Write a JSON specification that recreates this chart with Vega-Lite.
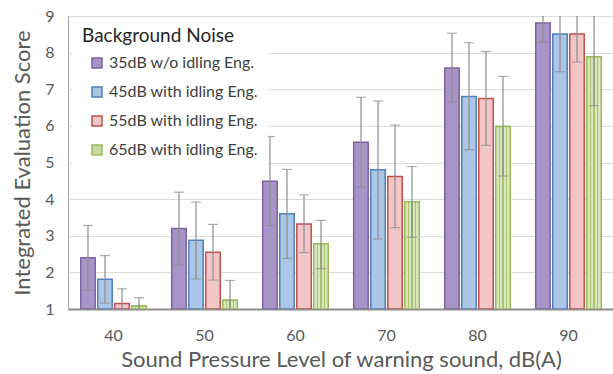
{
  "$schema": "https://vega.github.io/schema/vega-lite/v6.json",
  "width": 546,
  "height": 293,
  "autosize": {"type": "none"},
  "padding": {"left": 68, "top": 16, "right": 0, "bottom": 65},
  "background": "white",
  "config": {
    "font": "Lato",
    "view": {"stroke": "#a6a6a6", "strokeWidth": 1},
    "axisY": {
      "values": [1, 2, 3, 4, 5, 6, 7, 8, 9],
      "tickCount": 9,
      "labelOverlap": false,
      "labelFontSize": 16,
      "labelColor": "#595959",
      "labelPadding": 14,
      "ticks": false,
      "domain": false,
      "gridColor": "#dcdcdc",
      "gridWidth": 1.2,
      "titleFontSize": 22,
      "titleFontWeight": "normal",
      "titleColor": "#595959",
      "titlePadding": 10
    }
  },
  "data": {
    "values": [
      {"spl": "40", "noise": "35dB w/o idling Eng.", "mean": 2.40, "lo": 1.52, "hi": 3.28},
      {"spl": "40", "noise": "45dB with idling Eng.", "mean": 1.81, "lo": 1.16, "hi": 2.46},
      {"spl": "40", "noise": "55dB with idling Eng.", "mean": 1.15, "lo": 0.75, "hi": 1.55},
      {"spl": "40", "noise": "65dB with idling Eng.", "mean": 1.08, "lo": 0.85, "hi": 1.31},
      {"spl": "50", "noise": "35dB w/o idling Eng.", "mean": 3.20, "lo": 2.20, "hi": 4.19},
      {"spl": "50", "noise": "45dB with idling Eng.", "mean": 2.88, "lo": 1.82, "hi": 3.92},
      {"spl": "50", "noise": "55dB with idling Eng.", "mean": 2.55, "lo": 1.79, "hi": 3.31},
      {"spl": "50", "noise": "65dB with idling Eng.", "mean": 1.24, "lo": 0.70, "hi": 1.78},
      {"spl": "60", "noise": "35dB w/o idling Eng.", "mean": 4.49, "lo": 3.28, "hi": 5.71},
      {"spl": "60", "noise": "45dB with idling Eng.", "mean": 3.60, "lo": 2.38, "hi": 4.81},
      {"spl": "60", "noise": "55dB with idling Eng.", "mean": 3.32, "lo": 2.54, "hi": 4.12},
      {"spl": "60", "noise": "65dB with idling Eng.", "mean": 2.78, "lo": 2.10, "hi": 3.42},
      {"spl": "70", "noise": "35dB w/o idling Eng.", "mean": 5.55, "lo": 4.33, "hi": 6.78},
      {"spl": "70", "noise": "45dB with idling Eng.", "mean": 4.80, "lo": 2.91, "hi": 6.68},
      {"spl": "70", "noise": "55dB with idling Eng.", "mean": 4.62, "lo": 3.22, "hi": 6.02},
      {"spl": "70", "noise": "65dB with idling Eng.", "mean": 3.93, "lo": 2.96, "hi": 4.89},
      {"spl": "80", "noise": "35dB w/o idling Eng.", "mean": 7.58, "lo": 6.65, "hi": 8.53},
      {"spl": "80", "noise": "45dB with idling Eng.", "mean": 6.80, "lo": 5.35, "hi": 8.27},
      {"spl": "80", "noise": "55dB with idling Eng.", "mean": 6.75, "lo": 5.47, "hi": 8.03},
      {"spl": "80", "noise": "65dB with idling Eng.", "mean": 5.98, "lo": 4.63, "hi": 7.35},
      {"spl": "90", "noise": "35dB w/o idling Eng.", "mean": 8.81, "lo": 8.29, "hi": 9.33},
      {"spl": "90", "noise": "45dB with idling Eng.", "mean": 8.51, "lo": 7.48, "hi": 9.54},
      {"spl": "90", "noise": "55dB with idling Eng.", "mean": 8.51, "lo": 7.74, "hi": 9.28},
      {"spl": "90", "noise": "65dB with idling Eng.", "mean": 7.89, "lo": 6.55, "hi": 9.23}
    ]
  },
  "encoding": {
    "x": {
      "field": "spl",
      "type": "ordinal",
      "scale": {"paddingInner": 0.28, "paddingOuter": 0.14},
      "axis": {
        "title": "Sound Pressure Level of warning sound, dB(A)",
        "labelAngle": 0,
        "labelFontSize": 16,
        "labelColor": "#595959",
        "labelPadding": 18,
        "ticks": false,
        "domainColor": "#8c8c8c",
        "domainWidth": 2,
        "titleFontSize": 22,
        "titleFontWeight": "normal",
        "titleColor": "#595959",
        "titlePadding": 6
      }
    },
    "xOffset": {
      "field": "noise",
      "type": "nominal",
      "scale": {"paddingInner": 0.15, "paddingOuter": 0}
    }
  },
  "layer": [
    {
      "mark": {"type": "bar", "strokeWidth": 1.5, "clip": true},
      "encoding": {
        "y": {
          "field": "mean",
          "type": "quantitative",
          "scale": {"domain": [1, 9], "zero": false, "nice": false},
          "axis": {"title": "Integrated Evaluation Score", "values": [1, 2, 3, 4, 5, 6, 7, 8, 9], "labelOverlap": false}
        },
        "y2": {"datum": 1},
        "fill": {
          "field": "noise",
          "type": "nominal",
          "scale": {"range": ["#a994c8", "#abc6e7", "#f2c6c6", "#c6d9a0"]},
          "legend": {
            "title": "Background Noise",
            "orient": "none",
            "legendX": 4,
            "legendY": 1,
            "padding": 10,
            "fillColor": "white",
            "titleFontSize": 19,
            "titleFontWeight": "normal",
            "titleColor": "#262626",
            "titlePadding": 9,
            "labelFontSize": 16,
            "labelColor": "#404040",
            "labelOffset": 4,
            "rowPadding": 13,
            "symbolType": "square",
            "symbolSize": 100,
            "symbolOffset": 7,
            "symbolStrokeWidth": 1.5
          }
        },
        "stroke": {
          "field": "noise",
          "type": "nominal",
          "scale": {"range": ["#7f62a1", "#4f81bd", "#c0504d", "#9bbb59"]},
          "legend": null
        }
      }
    },
    {
      "transform": [{"filter": "datum.noise === '65dB with idling Eng.'"}],
      "mark": {
        "type": "bar",
        "clip": true,
        "stroke": "#9bbb59",
        "strokeWidth": 1.5,
        "fill": {
          "gradient": "linear",
          "x1": 0, "y1": 0, "x2": 1, "y2": 0,
          "stops": [
            {"offset": 0, "color": "#d9e6c0"},
            {"offset": 0.2, "color": "#d9e6c0"},
            {"offset": 0.2, "color": "#a9c46e"},
            {"offset": 0.3, "color": "#a9c46e"},
            {"offset": 0.3, "color": "#d9e6c0"},
            {"offset": 0.45, "color": "#d9e6c0"},
            {"offset": 0.45, "color": "#a9c46e"},
            {"offset": 0.55, "color": "#a9c46e"},
            {"offset": 0.55, "color": "#d9e6c0"},
            {"offset": 0.7, "color": "#d9e6c0"},
            {"offset": 0.7, "color": "#a9c46e"},
            {"offset": 0.8, "color": "#a9c46e"},
            {"offset": 0.8, "color": "#d9e6c0"},
            {"offset": 1, "color": "#d9e6c0"}
          ]
        }
      },
      "encoding": {
        "y": {"field": "mean", "type": "quantitative", "axis": {"title": "Integrated Evaluation Score", "values": [1, 2, 3, 4, 5, 6, 7, 8, 9], "labelOverlap": false}},
        "y2": {"datum": 1}
      }
    },
    {
      "mark": {"type": "rule", "color": "#8c8c8c", "strokeWidth": 1.2, "clip": true},
      "encoding": {
        "y": {"field": "lo", "type": "quantitative", "axis": {"title": "Integrated Evaluation Score", "values": [1, 2, 3, 4, 5, 6, 7, 8, 9], "labelOverlap": false}},
        "y2": {"field": "hi"}
      }
    },
    {
      "mark": {"type": "tick", "color": "#8c8c8c", "size": 10, "thickness": 1.2, "clip": true},
      "encoding": {
        "y": {"field": "lo", "type": "quantitative", "axis": {"title": "Integrated Evaluation Score", "values": [1, 2, 3, 4, 5, 6, 7, 8, 9], "labelOverlap": false}}
      }
    },
    {
      "mark": {"type": "tick", "color": "#8c8c8c", "size": 10, "thickness": 1.2, "clip": true},
      "encoding": {
        "y": {"field": "hi", "type": "quantitative", "axis": {"title": "Integrated Evaluation Score", "values": [1, 2, 3, 4, 5, 6, 7, 8, 9], "labelOverlap": false}}
      }
    }
  ]
}
